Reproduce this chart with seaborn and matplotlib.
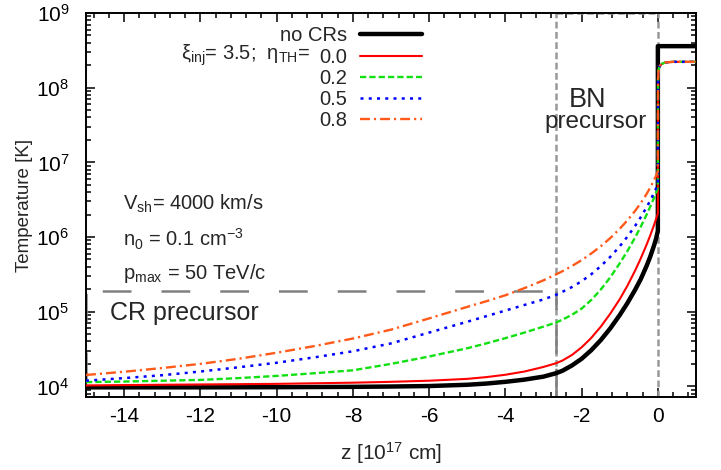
import matplotlib
matplotlib.use("Agg")
import matplotlib.pyplot as plt
from matplotlib.ticker import MultipleLocator, LogLocator, NullFormatter
import pandas as pd
import seaborn as sns

# Upstream grid (units of 1e17 cm) and temperature profiles [K]
z_up = [-15, -14, -13, -12, -11, -10, -9, -8, -7, -6, -5, -4.5, -4, -3.5, -3, -2.67,
        -2.5, -2.25, -2, -1.75, -1.5, -1.25, -1, -0.8, -0.6, -0.45, -0.3, -0.2, -0.1,
        -0.05, 0]
T_noCR_up = [9.7e3, 9.7e3, 9.7e3, 9.7e3, 9.72e3, 9.75e3, 9.8e3, 9.85e3, 9.95e3, 1.01e4,
             1.05e4, 1.09e4, 1.15e4, 1.23e4, 1.35e4, 1.5e4, 1.62e4, 1.91e4, 2.34e4, 3.04e4,
             4.15e4, 5.96e4, 9.02e4, 1.3e5, 1.95e5, 2.72e5, 4.05e5, 5.46e5, 7.71e5, 9.38e5,
             1.21e6]
T_eta00_up = [1.03e4, 1.04e4, 1.05e4, 1.06e4, 1.07e4, 1.08e4, 1.1e4, 1.12e4, 1.15e4, 1.19e4,
              1.26e4, 1.33e4, 1.43e4, 1.58e4, 1.82e4, 2.04e4, 2.22e4, 2.64e4, 3.33e4, 4.44e4,
              6.27e4, 9.38e4, 1.47e5, 2.22e5, 3.52e5, 5.15e5, 7.8e5, 1.05e6, 1.45e6, 1.73e6,
              2.07e6]
T_eta02_up = [1.14e4, 1.16e4, 1.19e4, 1.22e4, 1.29e4, 1.38e4, 1.5e4, 1.64e4, 2.0e4, 2.51e4,
              3.24e4, 3.76e4, 4.42e4, 5.25e4, 6.31e4, 7.16e4, 7.83e4, 9.1e4, 1.1e5, 1.43e5,
              1.97e5, 2.88e5, 4.44e5, 6.47e5, 9.79e5, 1.37e6, 1.97e6, 2.55e6, 3.36e6, 3.9e6,
              4.58e6]
T_eta05_up = [1.19e4, 1.29e4, 1.41e4, 1.58e4, 1.8e4, 2.07e4, 2.45e4, 2.95e4, 3.76e4, 5.25e4,
              7.33e4, 8.71e4, 1.035e5, 1.23e5, 1.46e5, 1.68e5, 1.85e5, 2.14e5, 2.56e5, 3.16e5,
              4.06e5, 5.41e5, 7.5e5, 1.01e6, 1.4e6, 1.84e6, 2.48e6, 3.08e6, 3.91e6, 4.44e6,
              5.08e6]
T_eta08_up = [1.42e4, 1.57e4, 1.76e4, 2.0e4, 2.34e4, 2.82e4, 3.47e4, 4.37e4, 5.75e4, 8.13e4,
              1.16e5, 1.38e5, 1.66e5, 2.07e5, 2.63e5, 3.16e5, 3.49e5, 4.1e5, 4.9e5, 6.0e5,
              7.5e5, 9.66e5, 1.29e6, 1.67e6, 2.23e6, 2.84e6, 3.74e6, 4.6e6, 5.79e6, 6.58e6,
              7.55e6]

# Downstream of the shock
z_down_noCR = [0.0, 1.0]
T_down_noCR = [3.6e8, 3.6e8]
z_down_CR = [0.005, 0.02, 0.05, 0.1, 0.2, 0.4, 1.0]
T_down_CR = [1.3e8, 1.75e8, 1.95e8, 2.08e8, 2.18e8, 2.22e8, 2.22e8]

series_names = ["no CRs", "0.0", "0.2", "0.5", "0.8"]

# Precursor regions
shock_z = 0.0
bn_edge_z = -2.67
cr_top_T = 1.87e5

xlim = (-15, 1)
ylim = (7.2e3, 1e9)

sns.set_style("ticks")
plt.rcParams["font.family"] = ["Liberation Sans", "DejaVu Sans"]
plt.rcParams["mathtext.fontset"] = "custom"
plt.rcParams["mathtext.rm"] = "Liberation Sans"
plt.rcParams["mathtext.it"] = "Liberation Sans:italic"
plt.rcParams["mathtext.bf"] = "Liberation Sans:bold"
plt.rcParams["axes.unicode_minus"] = False

rows = []
ups = [T_noCR_up, T_eta00_up, T_eta02_up, T_eta05_up, T_eta08_up]
for name, T_up in zip(series_names, ups):
    zd, Td = (z_down_noCR, T_down_noCR) if name == "no CRs" else (z_down_CR, T_down_CR)
    for z, T in zip(list(z_up) + list(zd), list(T_up) + list(Td)):
        rows.append({"series": name, "z": z, "T": T})
df = pd.DataFrame(rows)

styles = {
    "no CRs": dict(color="black", lw=3.2, ls="-"),
    "0.0": dict(color="#ff0000", lw=1.5, ls="-"),
    "0.2": dict(color="#11e011", lw=1.7, ls=(0, (2.65, 1.3))),
    "0.5": dict(color="#0000ff", lw=1.8, ls=(0, (1.2, 2.1))),
    "0.8": dict(color="#ff5a1a", lw=1.7, ls=(0, (4.2, 1.7, 0.9, 1.7))),
}

fig = plt.figure(figsize=(7.21, 4.70), dpi=100)
ax = fig.add_axes([0.1193, 0.1553, 0.9653 - 0.1193, 0.9723 - 0.1553])
ax.set_yscale("log")

# Precursor boxes
gray_short = dict(color="#999999", lw=1.8, ls=(0, (2.7, 1.4)), zorder=1)
ax.axvline(bn_edge_z, **gray_short)
ax.axvline(shock_z, **gray_short)
ax.plot([bn_edge_z, shock_z], [ylim[1], ylim[1]], **gray_short)
ax.plot([bn_edge_z, shock_z], [ylim[0], ylim[0]], **gray_short)

gray_long = dict(color="#808080", lw=1.8, ls=(17, (11.5, 12.0)), zorder=1)
ax.plot([xlim[0], bn_edge_z], [cr_top_T, cr_top_T], **gray_long)
ax.plot([bn_edge_z, bn_edge_z], [ylim[0], cr_top_T], color="#808080", lw=1.8,
        ls=(0, (11.5, 6.0)), zorder=1)
ax.plot([xlim[0], xlim[0]], [ylim[0], cr_top_T], **gray_long)
ax.plot([xlim[0], bn_edge_z], [ylim[0], ylim[0]], **gray_long)

handles = []
for name in series_names:
    st = styles[name]
    sns.lineplot(data=df[df["series"] == name], x="z", y="T", estimator=None, sort=False,
                 color=st["color"], linewidth=st["lw"], linestyle=st["ls"], ax=ax,
                 legend=False, zorder=3)
    handles.append(ax.lines[-1])

ax.set_xlim(*xlim)
ax.set_ylim(*ylim)
ax.xaxis.set_major_locator(MultipleLocator(2))
ax.xaxis.set_minor_locator(MultipleLocator(0.4))
ax.yaxis.set_major_locator(LogLocator(base=10, numticks=20))
ax.yaxis.set_minor_locator(LogLocator(base=10, subs=range(2, 10), numticks=20))
ax.yaxis.set_minor_formatter(NullFormatter())
ax.tick_params(which="both", direction="in", top=True, right=True, width=1.1,
               labelsize=15, colors="black")
ax.tick_params(which="major", length=6.5)
ax.tick_params(axis="x", which="major", pad=7)
ax.tick_params(axis="y", which="major", pad=12)
ax.tick_params(which="minor", length=3.5)
for sp in ax.spines.values():
    sp.set_linewidth(1.4)
    sp.set_color("black")

ax.set_xlabel(r"z [10$^{17}$ cm]", fontsize=15, labelpad=10)
ax.set_ylabel("Temperature [K]", fontsize=13.5, labelpad=2)

leg = ax.legend(handles, series_names, loc="upper right", bbox_to_anchor=(0.551, 0.965),
                markerfirst=False, frameon=False, fontsize=14.5, handlelength=3.1,
                handletextpad=0.6, labelspacing=0.11, borderpad=0, borderaxespad=0)
ax.text(0.368, 0.8794, r"ξ$_{\mathrm{inj}}$= 3.5;  η$_{\mathrm{TH}}$=",
        transform=ax.transAxes, ha="right", va="baseline", fontsize=14.5)

ax.text(0.0607, 0.487, r"V$_{\mathrm{sh}}$= 4000 km/s", transform=ax.transAxes,
        fontsize=14.5, va="baseline")
ax.text(0.0607, 0.391, r"n$_{0}$ = 0.1 cm$^{-3}$", transform=ax.transAxes,
        fontsize=14.5, va="baseline")
ax.text(0.0607, 0.3065, r"p$_{\mathrm{max}}$ = 50 TeV/c", transform=ax.transAxes,
        fontsize=14.5, va="baseline")
ax.text(0.039, 0.2005, "CR precursor", transform=ax.transAxes, fontsize=18,
        va="baseline")
ax.text(0.823, 0.754, "BN", transform=ax.transAxes, fontsize=19.5, ha="center",
        va="baseline")
ax.text(0.836, 0.7005, "precursor", transform=ax.transAxes, fontsize=17.5, ha="center",
        va="baseline")

fig.savefig("out.png", dpi=100)
